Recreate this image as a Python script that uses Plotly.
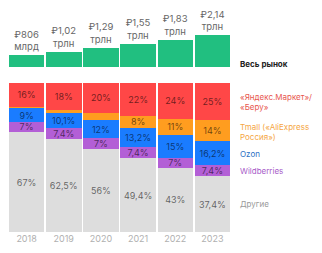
import plotly.graph_objects as go

years = ["2018", "2019", "2020", "2021", "2022", "2023"]
market = [806, 1020, 1290, 1550, 1830, 2140]
market_labels = ["₽806<br>млрд", "₽1,02<br>трлн", "₽1,29<br>трлн", "₽1,55<br>трлн", "₽1,83<br>трлн", "₽2,14<br>трлн"]

others = [67, 62.5, 56, 49.4, 43, 37.4]
wildberries = [7, 7.4, 7, 7.4, 7, 7.4]
ozon = [9, 10.1, 12, 13.2, 15, 16.2]
tmall = [1, 2, 5, 8, 11, 14]
yandex = [16, 18, 20, 22, 24, 25]
tmall_show = [False, False, False, True, True, True]

def fmt(v):
    return f"{v:g}".replace(".", ",") + "%"

FONT = "Inter, Roboto, sans-serif"
W, H = 322, 253
L, R, T, B = 8, 91, 0, 21
PH = H - T - B

fig = go.Figure()

fig.add_trace(go.Bar(
    x=years, y=market, xaxis="x2", yaxis="y2",
    marker=dict(color="#21bf80", line=dict(width=0)),
    text=market_labels, textposition="outside",
    textfont=dict(size=9.5, color="#666666", family=FONT),
    cliponaxis=False, hoverinfo="skip",
))

series = [
    ("Другие", others, "#dddddd", [True] * 6),
    ("Wildberries", wildberries, "#b35fd6", [True] * 6),
    ("Ozon", ozon, "#1a7cff", [True] * 6),
    ("Tmall", tmall, "#ff9d1f", tmall_show),
    ("Яндекс", yandex, "#ff4747", [True] * 6),
]
for name, vals, col, show in series:
    fig.add_trace(go.Bar(
        x=years, y=vals, name=name,
        marker=dict(color=col, line=dict(width=0)),
        text=[fmt(v) if s else "" for v, s in zip(vals, show)],
        textposition="inside", insidetextanchor="middle", textangle=0,
        textfont=dict(size=9, color="rgba(0,0,0,0.58)", family=FONT),
        hoverinfo="skip",
    ))

top_px = 83
base_px = 67
fig.update_layout(
    width=W, height=H,
    margin=dict(l=L, r=R, t=T, b=B),
    barmode="stack", bargap=0.045,
    showlegend=False,
    plot_bgcolor="white", paper_bgcolor="white",
    font=dict(family=FONT),
    uniformtext=dict(minsize=9, mode="show"),
    xaxis=dict(domain=[0, 1], showgrid=False, zeroline=False, showline=False,
               ticks="", tickfont=dict(size=9, color="#b0b0b0"), automargin=False),
    yaxis=dict(domain=[0, (PH - top_px) / PH], range=[0, 100], visible=False),
    xaxis2=dict(domain=[0, 1], anchor="y2", visible=False, matches="x"),
    yaxis2=dict(domain=[(PH - base_px) / PH, 1], range=[0, 2140 * 67 / 32], visible=False),
)

def py(y):
    return (PH - y) / PH

lx = (238 - L) / (W - L - R)
legend = [
    ("<b>Весь рынок</b>", "#222222", 64),
    ("«Яндекс.Маркет»/<br>«Беру»", "#e8574f", 102),
    ("Tmall («AliExpress<br>Россия»)", "#f5a644", 132),
    ("Ozon", "#2a6fc4", 154),
    ("Wildberries", "#a85cc9", 171),
    ("Другие", "#9a9a9a", 204),
]
for txt, col, y in legend:
    fig.add_annotation(text=txt, xref="paper", yref="paper", x=lx, y=py(y),
                       xanchor="left", yanchor="middle", showarrow=False, align="left",
                       font=dict(size=8, color=col, family=FONT))

fig.write_html("out.html", config={"displayModeBar": False, "staticPlot": True},
               post_script="document.body.style.margin='0';document.body.style.overflow='hidden';")
